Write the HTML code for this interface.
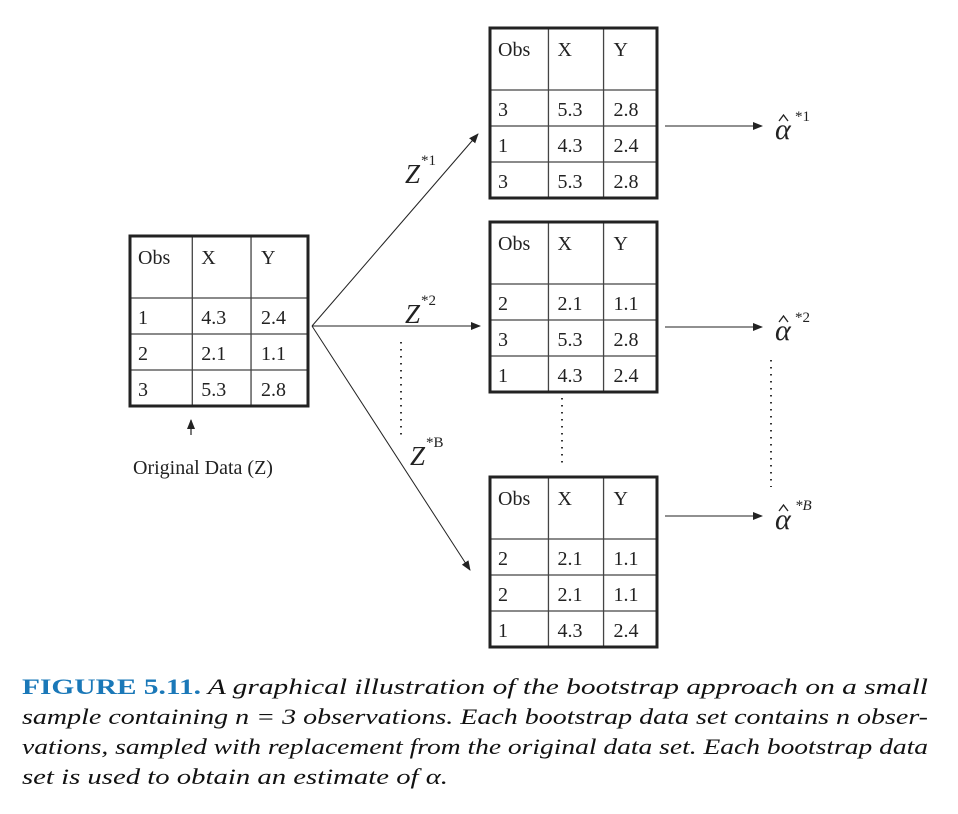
<!DOCTYPE html>
<html><head><meta charset="utf-8"><style>
html,body{margin:0;padding:0;background:#fff;}
svg{display:block;}
.t{font-family:"Liberation Serif",serif;font-size:20px;fill:#222;}
.z{font-family:"Liberation Serif",serif;font-style:italic;font-size:27px;fill:#222;}
.a{font-family:"Liberation Serif",serif;font-style:italic;font-size:30px;fill:#222;}
.sup{font-family:"Liberation Serif",serif;font-size:15px;fill:#222;}
.cap{font-family:"Liberation Serif",serif;font-style:italic;font-size:22px;fill:#111;}
.fig{font-family:"Liberation Serif",serif;font-weight:bold;font-style:normal;fill:#1a78b8;}
</style></head><body>
<svg id="s" width="958" height="814" viewBox="0 0 958 814">
<defs><marker id="ah" markerWidth="10" markerHeight="8" refX="9" refY="4" orient="auto" markerUnits="userSpaceOnUse"><path d="M0,0 L10,4 L0,8 Z" fill="#222"/></marker></defs>
<g id="g"></g>
<text class="t" x="133" y="474">Original Data (Z)</text>
<line x1="191" y1="435" x2="191" y2="420" stroke="#222" stroke-width="1.2" marker-end="url(#ah)"/>
<g stroke="#222" stroke-width="1" fill="none">
<line x1="312" y1="326" x2="478" y2="134" marker-end="url(#ah)"/>
<line x1="312" y1="326" x2="480" y2="326" marker-end="url(#ah)"/>
<line x1="312" y1="326" x2="470" y2="570" marker-end="url(#ah)"/>
<line x1="665" y1="126" x2="762" y2="126" marker-end="url(#ah)"/>
<line x1="665" y1="327" x2="762" y2="327" marker-end="url(#ah)"/>
<line x1="665" y1="516" x2="762" y2="516" marker-end="url(#ah)"/>
</g>
<g stroke="#333" stroke-width="2" stroke-dasharray="1.5 5.5">
<line x1="401" y1="342" x2="401" y2="438"/>
<line x1="562" y1="398" x2="562" y2="468"/>
<line x1="771" y1="360" x2="771" y2="487"/>
</g>
<g><text class="z" x="405" y="183">Z</text><text class="sup" x="421" y="165">*1</text></g>
<g><text class="z" x="405" y="323">Z</text><text class="sup" x="421" y="305">*2</text></g>
<g><text class="z" x="410" y="465">Z</text><text class="sup" x="426" y="447">*B</text></g>
<g><text class="a" x="775" y="139">α</text><polyline points="779,121 783.5,115 788,121" fill="none" stroke="#222" stroke-width="1.3"/><text class="sup" x="795" y="121">*1</text></g>
<g><text class="a" x="775" y="340">α</text><polyline points="779,322 783.5,316 788,322" fill="none" stroke="#222" stroke-width="1.3"/><text class="sup" x="795" y="322">*2</text></g>
<g><text class="a" x="775" y="529">α</text><polyline points="779,511 783.5,505 788,511" fill="none" stroke="#222" stroke-width="1.3"/><text class="sup" x="795" y="510" style="font-style:italic">*B</text></g>
<g>
<text class="cap" x="22" y="694" textLength="906" lengthAdjust="spacingAndGlyphs"><tspan class="fig">FIGURE 5.11.</tspan> A graphical illustration of the bootstrap approach on a small</text>
<text class="cap" x="22" y="724" textLength="906" lengthAdjust="spacingAndGlyphs">sample containing n = 3 observations. Each bootstrap data set contains n obser-</text>
<text class="cap" x="22" y="754" textLength="906" lengthAdjust="spacingAndGlyphs">vations, sampled with replacement from the original data set. Each bootstrap data</text>
<text class="cap" x="22" y="784" textLength="426" lengthAdjust="spacingAndGlyphs">set is used to obtain an estimate of α.</text>
</g>
</svg>
<script>
const tableNames=['original-table','bootstrap-table-1','bootstrap-table-2','bootstrap-table-b'];
const tableObs=[[1,2,3],[3,1,3],[2,3,1],[2,2,1]];
const tableX=[['4.3','2.1','5.3'],['5.3','4.3','5.3'],['2.1','5.3','4.3'],['2.1','2.1','4.3']];
const tableY=[['2.4','1.1','2.8'],['2.8','2.4','2.8'],['1.1','2.8','2.4'],['1.1','1.1','2.4']];
const tablePos=[[130,236,178],[490,28,167],[490,222,167],[490,477,167]];
const NS='http://www.w3.org/2000/svg';
const g=document.getElementById('g');
function mk(tag,attrs,parent){const e=document.createElementNS(NS,tag);for(const k in attrs)e.setAttribute(k,attrs[k]);parent.appendChild(e);return e;}
tableNames.forEach((nm,i)=>{
  const [x,y,w]=tablePos[i];
  const grp=mk('g',{},g);
  
  
  const hh=62,rh=36,h=hh+3*rh;
  const c1=x+w*0.35,c2=x+w*0.68;
  mk('line',{x1:c1,y1:y,x2:c1,y2:y+h,stroke:'#444','stroke-width':1.3},grp);
  mk('line',{x1:c2,y1:y,x2:c2,y2:y+h,stroke:'#444','stroke-width':1.3},grp);
  for(let r=0;r<3;r++){const yy=y+hh+r*rh;mk('line',{x1:x,y1:yy,x2:x+w,y2:yy,stroke:'#444','stroke-width':1.3},grp);}
  mk('rect',{x:x,y:y,width:w,height:h,fill:'none',stroke:'#222','stroke-width':3},grp);
  const hd=['Obs','X','Y'],cx=[x+8,c1+9,c2+10];
  hd.forEach((t,j)=>{const e=mk('text',{x:cx[j],y:y+28,class:'t'},grp);e.textContent=t;});
  for(let r=0;r<3;r++){
    const yy=y+hh+r*rh+26;
    const vals=[tableObs[i][r],tableX[i][r],tableY[i][r]];
    vals.forEach((v,j)=>{const e=mk('text',{x:cx[j],y:yy,class:'t'},grp);e.textContent=v;
      
      });
  }
});
</script>
</body></html>
